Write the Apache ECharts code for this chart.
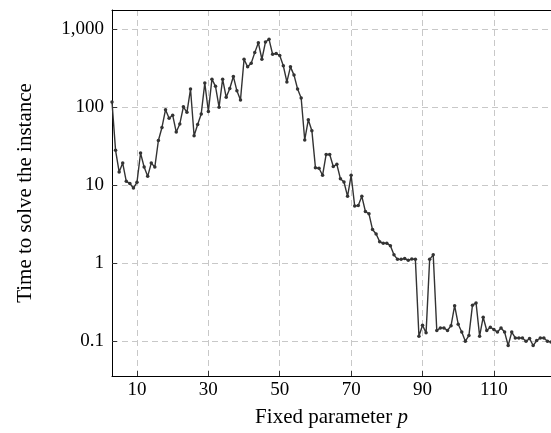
<!DOCTYPE html>
<html>
<head>
<meta charset="utf-8">
<script src="https://cdn.jsdelivr.net/npm/echarts@6/dist/echarts.min.js"></script>
<style>
  html, body { margin: 0; padding: 0; background: #fff; }
  #chart { width: 551px; height: 433px; }
</style>
</head>
<body>
<div id="chart"></div>
<script>
// fixed parameter p (3..126) and solve time
const params = []
for (let p = 3; p <= 126; p++) params.push(p)

const times = [
  117, 28, 14.8, 19.2, 11.2, 10.5, 9.2, 10.9, 25.8, 17.1,
  13, 19.2, 17.1, 37.4, 55, 93, 72, 79, 48, 61,
  101, 86, 171, 43, 60, 82, 204, 88, 229, 185,
  100, 229, 134, 174, 248, 162, 124, 412, 329, 366,
  501, 672, 412, 685, 741, 477, 488, 460, 340, 211,
  329, 258, 171, 131, 38, 69, 50, 16.8, 16.5, 13.4,
  24.8, 24.8, 17.4, 18.5, 12.1, 11.0, 7.2, 13.4, 5.4, 5.5,
  7.2, 4.6, 4.3, 2.7, 2.37, 1.89, 1.8, 1.8, 1.68, 1.28,
  1.12, 1.12, 1.15, 1.09, 1.13, 1.12, 0.116, 0.16, 0.128, 1.12,
  1.28, 0.137, 0.148, 0.148, 0.137, 0.158, 0.285, 0.165, 0.131, 0.1,
  0.118, 0.29, 0.31, 0.116, 0.203, 0.137, 0.151, 0.141, 0.131, 0.148,
  0.131, 0.088, 0.131, 0.11, 0.11, 0.11, 0.1, 0.108, 0.088, 0.102,
  0.11, 0.11, 0.1, 0.098
]

const xTicks = [10, 30, 50, 70, 90, 110]
const yTicks = [0.1, 1, 10, 100, 1000]

const font = 'Liberation Serif'
const gridLine = { show: true, lineStyle: { color: '#c8c8c8', type: [6, 4], width: 1 } }

const chart = echarts.init(document.getElementById('chart'))
const option = {
  animation: false,
  textStyle: { fontFamily: font },
  grid: { left: 112, right: 0, top: 10, bottom: 55, containLabel: false },
  xAxis: [
    {
      type: 'value',
      min: 3,
      max: 126,
      name: 'Fixed parameter {i|p}',
      nameLocation: 'middle',
      nameGap: 31,
      nameTextStyle: {
        fontFamily: font, fontSize: 21, color: '#000',
        rich: { i: { fontFamily: font, fontSize: 21, fontStyle: 'italic', color: '#000' } }
      },
      axisLine: { lineStyle: { color: '#000', width: 1 } },
      axisTick: { inside: true, length: 5, customValues: xTicks, lineStyle: { color: '#333' } },
      axisLabel: { customValues: xTicks, fontFamily: font, fontSize: 19, color: '#000', margin: 5 },
      splitLine: gridLine
    },
    { // top frame line
      type: 'value', position: 'top', min: 3, max: 126,
      axisLine: { show: true, lineStyle: { color: '#000', width: 1 } },
      axisTick: { show: false }, axisLabel: { show: false }, splitLine: { show: false }
    }
  ],
  yAxis: {
    type: 'log',
    logBase: 10,
    min: 0.0358,
    max: 1763,
    name: 'Time to solve the instance',
    nameLocation: 'middle',
    nameGap: 76,
    nameTextStyle: { fontFamily: font, fontSize: 21, color: '#000' },
    axisLine: { show: true, lineStyle: { color: '#000', width: 1 } },
    axisTick: { inside: true, length: 5, lineStyle: { color: '#333' } },
    axisLabel: {
      fontFamily: font, fontSize: 19, color: '#000', margin: 8,
      showMinLabel: false, showMaxLabel: false,
      formatter: v => {
        const n = Number(Number(v).toPrecision(6))
        return yTicks.indexOf(n) >= 0 ? n.toLocaleString('en-US') : ''
      }
    },
    splitLine: gridLine
  },
  series: [
    {
      type: 'line',
      data: params.map((p, i) => [p, times[i]]),
      symbol: 'circle',
      symbolSize: 3.5,
      showAllSymbol: true,
      lineStyle: { color: '#333', width: 1.4 },
      itemStyle: { color: '#333' },
      clip: true
    }
  ]
}
chart.setOption(option)
window.addEventListener('resize', () => {
  chart.resize()
})
</script>
</body>
</html>
